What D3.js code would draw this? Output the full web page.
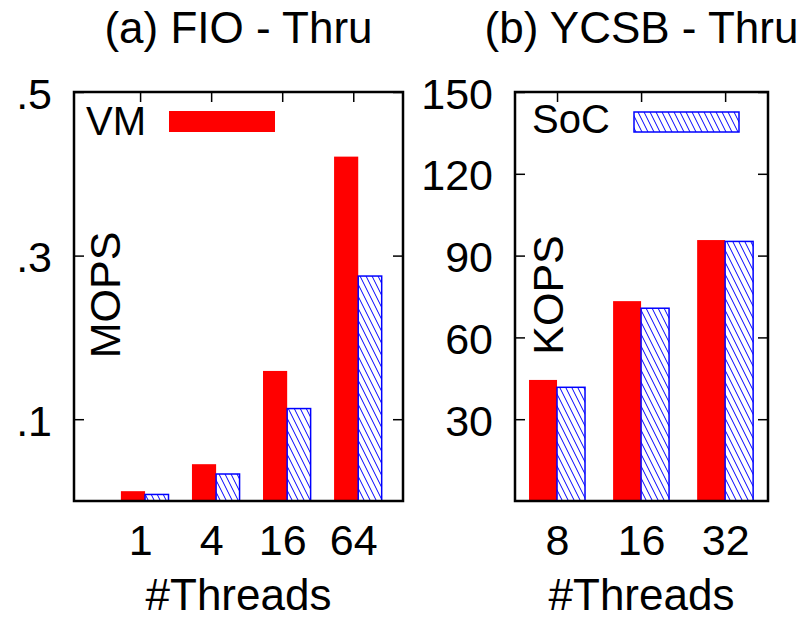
<!DOCTYPE html>
<html>
<head>
<meta charset="utf-8">
<script src="https://cdn.jsdelivr.net/npm/d3@7/dist/d3.min.js"></script>
<style>
  html, body { margin: 0; padding: 0; background: #fff; }
  svg text { font-family: "Liberation Sans", Arial, Helvetica, sans-serif; fill: #000; }
</style>
</head>
<body>
<svg id="chart" width="807" height="619"></svg>
<script>
// ---- Data ----
const seriesNames = ["VM", "SoC"];

const fioCategories = ["1", "4", "16", "64"];
const fioVM  = [0.012, 0.045, 0.159, 0.421];
const fioSoC = [0.008, 0.033, 0.113, 0.275];
const fioYTicks = [0.1, 0.3, 0.5];
const fioYTickLabels = [".1", ".3", ".5"];

const ycsbCategories = ["8", "16", "32"];
const ycsbVM  = [44.4, 73.3, 95.7];
const ycsbSoC = [41.7, 70.7, 95.2];
const ycsbYTicks = [30, 60, 90, 120, 150];
const ycsbYTickLabels = ["30", "60", "90", "120", "150"];

const titles = ["(a) FIO - Thru", "(b) YCSB - Thru"];
const yTitles = ["MOPS", "KOPS"];
const xTitle = "#Threads";

// ---- Drawing ----
const svg = d3.select("#chart");
const RED = "#ff0000", BLUE = "#0000ff";

const defs = svg.append("defs");
const pat = defs.append("pattern")
  .attr("id", "hatch")
  .attr("patternUnits", "userSpaceOnUse")
  .attr("width", 6).attr("height", 12);
pat.append("rect").attr("width", 6).attr("height", 12).attr("fill", "#fff");
[[0,0,6,12],[5,-2,7,2],[-1,10,1,14]].forEach(l => {
  pat.append("line").attr("x1", l[0]).attr("y1", l[1]).attr("x2", l[2]).attr("y2", l[3])
    .attr("stroke", BLUE).attr("stroke-width", 1);
});

function panel(cfg) {
  const g = svg.append("g");
  const x = d3.scaleLinear().domain(cfg.xDomain).range([cfg.left, cfg.right]);
  const y = d3.scaleLinear().domain(cfg.yDomain).range([cfg.bottom, cfg.top]);
  const idx = cfg.categories.map((c, i) => i);

  // bars
  const vmG = g.append("g");
  vmG.selectAll("rect").data(cfg.vm).join("rect")
    .attr("x", (d, i) => x(i + cfg.vmOff[0]))
    .attr("width", (d, i) => x(i + cfg.vmOff[1]) - x(i + cfg.vmOff[0]))
    .attr("y", d => y(d))
    .attr("height", d => y(0) - y(d))
    .attr("fill", RED);
  const socG = g.append("g");
  socG.selectAll("rect").data(cfg.soc).join("rect")
    .attr("x", (d, i) => x(i + cfg.socOff[0]))
    .attr("width", (d, i) => x(i + cfg.socOff[1]) - x(i + cfg.socOff[0]))
    .attr("y", d => y(d))
    .attr("height", d => y(0) - y(d))
    .attr("fill", "url(#hatch)")
    .attr("stroke", BLUE).attr("stroke-width", 1.5);

  // axes: y ticks inward on left and right
  const yAxisL = d3.axisLeft(y).tickValues(cfg.yTicks).tickSize(-10).tickFormat((d, i) => cfg.yTickLabels[i]).tickPadding(22);
  const yL = g.append("g").attr("transform", `translate(${cfg.left},0)`).call(yAxisL);
  const yAxisR = d3.axisRight(y).tickValues(cfg.yTicks).tickSize(-10).tickFormat("");
  const yR = g.append("g").attr("transform", `translate(${cfg.right},0)`).call(yAxisR);
  // x ticks on top, inward
  const xAxisT = d3.axisTop(x).tickValues(idx).tickSize(-10).tickFormat("");
  const xT = g.append("g").attr("transform", `translate(0,${cfg.top})`).call(xAxisT);
  // x tick labels at bottom
  const xAxisB = d3.axisBottom(x).tickValues(idx).tickSize(0).tickFormat((d, i) => cfg.categories[i]).tickPadding(0);
  const xB = g.append("g").attr("transform", `translate(0,${cfg.bottom})`).call(xAxisB);

  [yL, yR, xT, xB].forEach(a => {
    a.select(".domain").remove();
    a.selectAll(".tick line").attr("stroke", "#000").attr("stroke-width", 1.5);
    a.selectAll(".tick text").attr("font-size", 43).attr("fill", "#000");
  });
  yL.selectAll(".tick text").attr("dy", null).attr("dominant-baseline", "auto")
    .attr("transform", "translate(0,16)");
  xB.selectAll(".tick text").attr("dy", null).attr("y", 54);

  // frame
  g.append("rect")
    .attr("x", cfg.left).attr("y", cfg.top)
    .attr("width", cfg.right - cfg.left).attr("height", cfg.bottom - cfg.top)
    .attr("fill", "none").attr("stroke", "#000").attr("stroke-width", 2.5);

  // titles
  const cx = (cfg.left + cfg.right) / 2;
  g.append("text").attr("x", cx).attr("y", 43).attr("text-anchor", "middle")
    .attr("font-size", 44).text(cfg.title);
  g.append("text").attr("x", cx).attr("y", 610).attr("text-anchor", "middle")
    .attr("font-size", 44).text(xTitle);
  g.append("text")
    .attr("transform", `translate(${cfg.yTitleX},${cfg.yTitleY}) rotate(-90)`)
    .attr("text-anchor", "middle").attr("font-size", 43).text(cfg.yTitle);

  // legend
  g.append("text").attr("x", cfg.legTextX).attr("y", cfg.legBaseline)
    .attr("font-size", 40).text(cfg.legName);
  g.append("rect")
    .attr("x", cfg.legSw[0]).attr("y", cfg.legSw[1])
    .attr("width", cfg.legSw[2]).attr("height", cfg.legSw[3])
    .attr("fill", cfg.legFill).attr("stroke", cfg.legStroke).attr("stroke-width", cfg.legStroke === "none" ? 0 : 1.5);
}

panel({
  left: 74, right: 403, top: 92, bottom: 501,
  xDomain: [-0.93, 3.70], yDomain: [0, 0.5],
  categories: fioCategories, vm: fioVM, soc: fioSoC,
  vmOff: [-0.27, 0.07], socOff: [0.07, 0.40],
  yTicks: fioYTicks, yTickLabels: fioYTickLabels,
  title: titles[0], yTitle: yTitles[0], yTitleX: 120, yTitleY: 295,
  legName: seriesNames[0], legTextX: 86, legBaseline: 135,
  legSw: [169, 111, 106, 21], legFill: RED, legStroke: "none"
});

panel({
  left: 515, right: 768, top: 92, bottom: 501,
  xDomain: [-0.5, 2.51], yDomain: [0, 150],
  categories: ycsbCategories, vm: ycsbVM, soc: ycsbSoC,
  vmOff: [-0.333, 0], socOff: [0, 0.333],
  yTicks: ycsbYTicks, yTickLabels: ycsbYTickLabels,
  title: titles[1], yTitle: yTitles[1], yTitleX: 563, yTitleY: 295,
  legName: seriesNames[1], legTextX: 532, legBaseline: 133,
  legSw: [634, 112, 105, 20], legFill: "url(#hatch)", legStroke: BLUE
});
</script>
</body>
</html>
